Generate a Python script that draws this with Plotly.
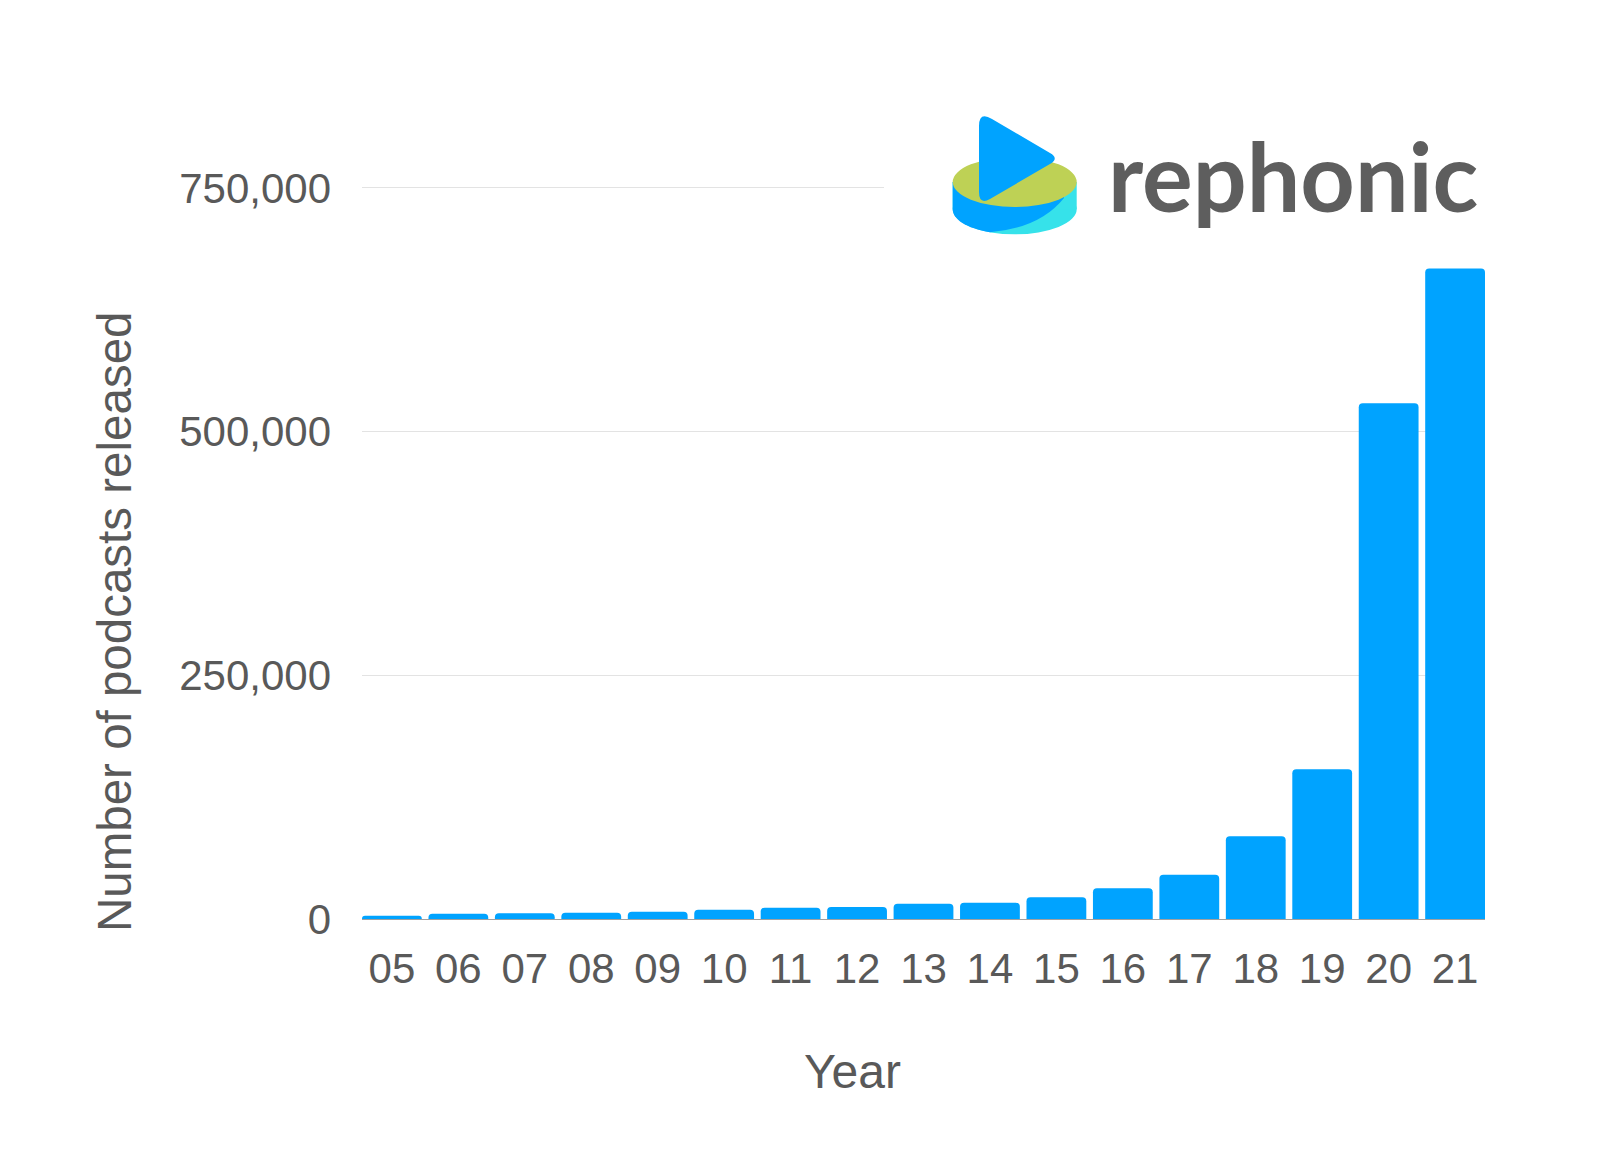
import plotly.graph_objects as go

years = ["05", "06", "07", "08", "09", "10", "11", "12", "13", "14",
         "15", "16", "17", "18", "19", "20", "21"]
podcasts = [3400, 5400, 5800, 6500, 7500, 9500, 11600, 12300, 15700, 16700,
            22300, 31500, 45500, 85000, 153700, 529000, 667300]
y_ticks = [0, 250000, 500000, 750000]

W, H = 1600, 1150
L, R, T, B = 362, 115, 183, 231
PW, PH = W - L - R, H - T - B


def px(x):
    return (x - L) / PW


def py(y):
    return (H - B - y) / PH


def P(x, y):
    return f"{px(x):.5f},{py(y):.5f}"


fig = go.Figure()
fig.add_trace(go.Bar(
    x=years, y=podcasts,
    marker=dict(color="#00A3FF", line=dict(width=0)),
    hoverinfo="x+y",
))

shapes = []
# white panel behind logo (hides the top gridline there)
shapes.append(dict(type="rect", xref="paper", yref="paper",
                   x0=px(884), x1=px(1600), y0=py(250), y1=py(100),
                   fillcolor="white", line=dict(width=0), layer="above"))

cx0, cx1 = 952.7, 1076.7
# cylinder bottom ellipse (cyan)
shapes.append(dict(type="circle", xref="paper", yref="paper",
                   x0=px(cx0), x1=px(cx1), y0=py(234.3), y1=py(184.3),
                   fillcolor="#36E2EA", line=dict(width=0), layer="above"))
shapes.append(dict(type="rect", xref="paper", yref="paper",
                   x0=px(cx0), x1=px(cx1), y0=py(209.3), y1=py(182),
                   fillcolor="#36E2EA", line=dict(width=0), layer="above"))
# blue part of the side
blue_side = (f"M {P(cx0,182)} L {P(cx0,209.3)} "
             f"C {P(cx0,219)} {P(966,228.5)} {P(990,232.2)} "
             f"Q {P(1040,228)} {P(1064,198)} L {P(1064,182)} Z")
shapes.append(dict(type="path", xref="paper", yref="paper", path=blue_side,
                   fillcolor="#00A3FF", line=dict(width=0), layer="above"))
# green top ellipse
shapes.append(dict(type="circle", xref="paper", yref="paper",
                   x0=px(cx0), x1=px(cx1), y0=py(207), y1=py(157),
                   fillcolor="#BED155", line=dict(width=0), layer="above"))
# play triangle
tri = (f"M {P(979,126)} L {P(979,192)} "
       f"Q {P(979,205)} {P(990,199)} "
       f"L {P(1050,164)} Q {P(1059.5,158.5)} {P(1050,153)} "
       f"L {P(992,119)} Q {P(979,111)} {P(979,126)} Z")
shapes.append(dict(type="path", xref="paper", yref="paper", path=tri,
                   fillcolor="#00A3FF", line=dict(width=0), layer="above"))

annotations = [
    dict(text="rephonic", xref="paper", yref="paper",
         x=px(1106), y=py(174.5), xanchor="left", yanchor="middle",
         showarrow=False,
         font=dict(family="Lato", size=95, color="#5E5E5E", weight=700)),
    dict(text="Number of podcasts released", xref="paper", yref="paper",
         x=px(114), y=py(622), xanchor="center", yanchor="middle",
         textangle=-90, showarrow=False,
         font=dict(family="Liberation Sans, Arial", size=47.5, color="#595959")),
    dict(text="Year", xref="paper", yref="paper",
         x=px(852), y=py(1071), xanchor="center", yanchor="middle",
         showarrow=False,
         font=dict(family="Liberation Sans, Arial", size=48, color="#595959")),
]

fig.update_layout(
    width=W, height=H,
    margin=dict(l=L, r=R, t=T, b=B, pad=0),
    paper_bgcolor="white", plot_bgcolor="white",
    bargap=0.1,
    barcornerradius=4,
    showlegend=False,
    shapes=shapes,
    annotations=annotations,
    font=dict(family="Liberation Sans, Arial", color="#595959"),
    xaxis=dict(
        type="category", range=[-0.45, 16.45],
        showgrid=False, zeroline=False,
        showline=True, linecolor="#A0A0A0", linewidth=1,
        ticks="", ticklabelstandoff=13,
        tickfont=dict(size=42, color="#595959"),
    ),
    yaxis=dict(
        range=[0, 755000],
        tickvals=y_ticks, tickformat=",d",
        showgrid=True, gridcolor="#E3E3E3", gridwidth=1,
        zeroline=False, showline=False,
        ticks="", ticklabelstandoff=30,
        tickfont=dict(size=42, color="#595959"),
    ),
)

fig.write_html("out.html")
